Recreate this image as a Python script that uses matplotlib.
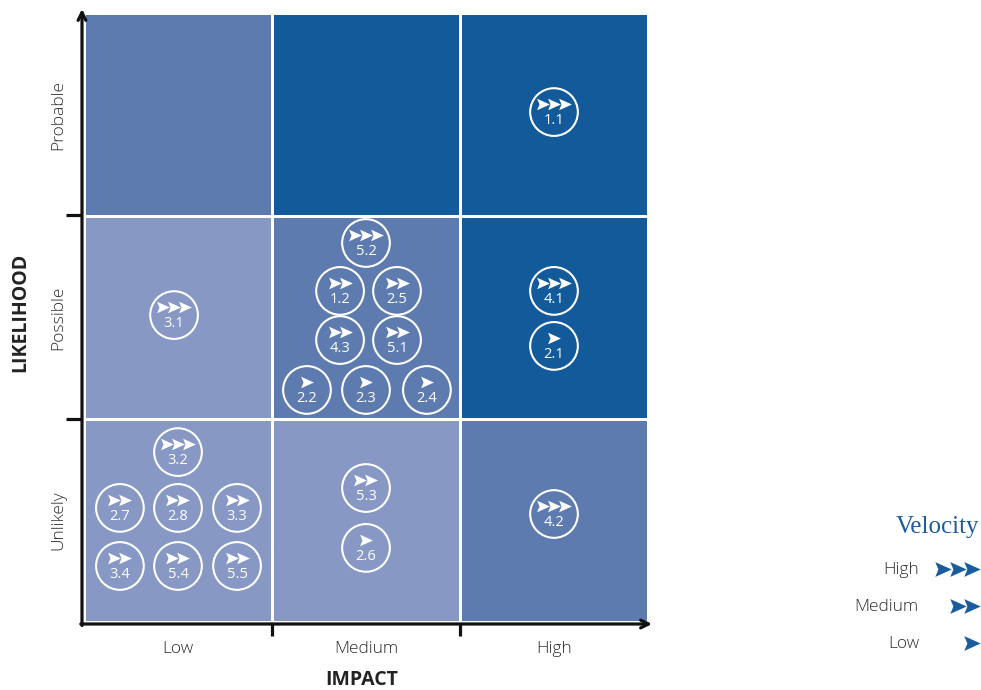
import matplotlib
matplotlib.use("Agg")
import matplotlib.pyplot as plt
import numpy as np
from matplotlib.path import Path
from matplotlib.colors import ListedColormap

# ---------------- data ----------------
impact_levels = ["Low", "Medium", "High"]
likelihood_levels = ["Unlikely", "Possible", "Probable"]
# severity level of each cell (rows: likelihood bottom->top, cols: impact)
severity = [[0, 0, 1],
            [0, 1, 2],
            [1, 2, 2]]
risk_ids = ["1.1", "5.2", "1.2", "2.5", "4.3", "5.1", "2.2", "2.3", "2.4",
            "3.1", "4.1", "2.1", "3.2", "2.7", "2.8", "3.3", "3.4", "5.4",
            "5.5", "5.3", "2.6", "4.2"]
risk_impact = ["High", "Medium", "Medium", "Medium", "Medium", "Medium", "Medium", "Medium", "Medium",
               "Low", "High", "High", "Low", "Low", "Low", "Low", "Low", "Low",
               "Low", "Medium", "Medium", "High"]
risk_likelihood = ["Probable", "Possible", "Possible", "Possible", "Possible", "Possible", "Possible", "Possible", "Possible",
                   "Possible", "Possible", "Possible", "Unlikely", "Unlikely", "Unlikely", "Unlikely", "Unlikely", "Unlikely",
                   "Unlikely", "Unlikely", "Unlikely", "Unlikely"]
risk_velocity = [3, 3, 2, 2, 2, 2, 1, 1, 1,
                 3, 3, 1, 3, 2, 2, 2, 2, 2,
                 2, 2, 1, 3]
velocity_labels = ["High", "Medium", "Low"]
velocity_counts = [3, 2, 1]

# ---------------- layout (offsets of each bubble inside its cell) ----------------
cell_offsets = [(0, 0.012), (0, 0.367), (-0.138, 0.131), (0.165, 0.131), (-0.138, -0.111),
                (0.165, -0.111), (-0.314, -0.357), (0, -0.357), (0.324, -0.357),
                (-0.021, 0.012), (0, 0.131), (0, -0.140), (0, 0.337), (-0.309, 0.062),
                (0, 0.062), (0.314, 0.062), (-0.309, -0.224), (0, -0.224), (0.314, -0.224),
                (0, 0.160), (0, -0.135), (0, 0.032)]

W, H = 981, 690
fig = plt.figure(figsize=(W / 100, H / 100), dpi=100)
sans = ["Open Sans", "DejaVu Sans"]

# cell grid spans pixels x 84..648, y 13..622
ax = fig.add_axes([84 / W, 1 - 622 / H, (648 - 84) / W, (622 - 13) / H])
cmap = ListedColormap(["#8698c3", "#5e7bb0", "#125a99"])
ax.pcolormesh(np.arange(4), np.arange(4), np.array(severity), cmap=cmap,
              vmin=-0.5, vmax=2.5, edgecolors="white", linewidth=2)
ax.set_xlim(0, 3)
ax.set_ylim(0, 3)
ax.axis("off")

# chevron marker
chev = Path([(-1, 0.9), (1, 0), (-1, -0.9), (-0.62, 0), (-1, 0.9)],
            [Path.MOVETO, Path.LINETO, Path.LINETO, Path.LINETO, Path.CLOSEPOLY])

px_x = 1 / 188.0
px_y = 1 / 203.0
for rid, imp, lik, vel, off in zip(risk_ids, risk_impact, risk_likelihood, risk_velocity, cell_offsets):
    cx = impact_levels.index(imp) + 0.5 + off[0]
    cy = likelihood_levels.index(lik) + 0.5 + off[1]
    ax.scatter([cx], [cy], s=1180, facecolors="none", edgecolors="white", linewidths=1.5, zorder=3)
    xs = cx + (np.arange(vel) - (vel - 1) / 2) * 11 * px_x
    ax.scatter(xs, np.full(vel, cy + 8 * px_y), marker=chev, s=85, color="white", linewidths=0, zorder=4)
    ax.text(cx, cy - 8.5 * px_y, rid, ha="center", va="center", color="white",
            fontsize=10.5, family=sans, zorder=4)

# overlay in pixel coordinates for axes lines, labels and legend
ov = fig.add_axes([0, 0, 1, 1])
ov.set_xlim(0, W)
ov.set_ylim(H, 0)
ov.axis("off")
ov.patch.set_alpha(0)

arrow_kw = dict(arrowstyle="->", lw=2.3, color="#111111", mutation_scale=14, shrinkA=0, shrinkB=0)
ov.annotate("", xy=(82, 9), xytext=(82, 625.5), arrowprops=arrow_kw)
ov.annotate("", xy=(652, 624), xytext=(80.8, 624), arrowprops=arrow_kw)
for i in range(1, 3):
    x = 84 + 188 * i
    ov.plot([x, x], [624, 636], color="#111111", lw=2.3, solid_capstyle="butt")
    y = 622 - 203.5 * i
    ov.plot([66, 82], [y, y], color="#111111", lw=2.3, solid_capstyle="butt")

for i, lab in enumerate(impact_levels):
    ov.text(84 + 188 * (i + 0.5), 649, lab, ha="center", va="center", fontsize=12.5,
            color="#2e2e2e", family=sans, fontweight="light")
for j, lab in enumerate(likelihood_levels):
    ov.text(58, 622 - 203 * (j + 0.5), lab, ha="center", va="center", rotation=90,
            fontsize=12.5, color="#2e2e2e", family=sans, fontweight="light")
ov.text(362, 680, "IMPACT", ha="center", va="center", fontsize=14, fontweight="bold",
        color="#222222", family=sans)
ov.text(20, 312, "LIKELIHOOD", ha="center", va="center", rotation=90, fontsize=14,
        fontweight="bold", color="#222222", family=sans)

# velocity legend
legend_blue = "#1b5c9c"
ov.text(979, 527, "Velocity", ha="right", va="center", fontsize=18, color=legend_blue,
        family=["Liberation Serif", "DejaVu Serif"])
for k, (lab, n) in enumerate(zip(velocity_labels, velocity_counts)):
    y = 570 + 37 * k
    ov.text(919, y, lab, ha="right", va="center", fontsize=12.5, color="#2e2e2e",
            family=sans, fontweight="light")
    xs = 972 - 14.5 * np.arange(n)
    ov.scatter(xs, np.full(n, y - 1), marker=chev, s=140, color=legend_blue, linewidths=0)

fig.savefig("out.png", dpi=100)
